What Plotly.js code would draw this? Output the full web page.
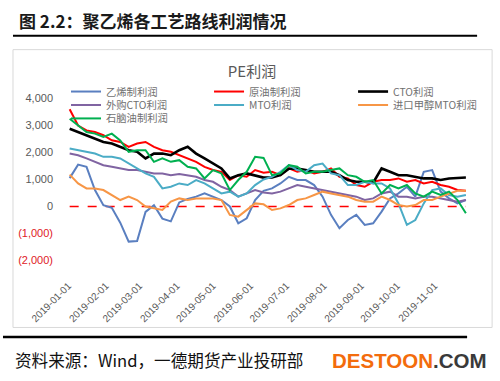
<!DOCTYPE html>
<html>
<head>
<meta charset="utf-8">
<script src="https://cdn.plot.ly/plotly-3.0.1.min.js"></script>
<style>
  html, body { margin: 0; padding: 0; background: #ffffff; }
  #chart { width: 500px; height: 381px; }
</style>
</head>
<body>
<div id="chart"></div>
<script>
// ---------------- data ----------------
const dates = [
  '2019-01-02','2019-01-09','2019-01-16','2019-01-23','2019-01-30',
  '2019-02-06','2019-02-13','2019-02-20','2019-02-27',
  '2019-03-06','2019-03-13','2019-03-20','2019-03-27',
  '2019-04-03','2019-04-10','2019-04-17','2019-04-24',
  '2019-05-01','2019-05-08','2019-05-15','2019-05-22','2019-05-29',
  '2019-06-05','2019-06-12','2019-06-19','2019-06-26',
  '2019-07-03','2019-07-10','2019-07-17','2019-07-24','2019-07-31',
  '2019-08-07','2019-08-14','2019-08-21','2019-08-28',
  '2019-09-04','2019-09-11','2019-09-18','2019-09-25',
  '2019-10-02','2019-10-09','2019-10-16','2019-10-23','2019-10-30',
  '2019-11-06','2019-11-13','2019-11-20','2019-11-27'
];

const ethyleneProfit = [1050,1550,1470,610,50,-50,-600,-1300,-1280,-200,50,-450,-550,150,280,365,485,365,240,0,-620,-435,240,580,
  670,855,1100,980,980,795,365,-310,-805,-500,-310,-680,-620,-190,300,485,730,365,1285,1350,550,300,115,240];
const crudeProfit = [3600,3000,2820,2760,2640,2450,2390,2210,2330,2390,2210,2085,2025,1900,1780,1655,1470,1350,1285,980,1160,1100,1350,1250,
  1285,1160,1410,1285,1350,1225,1285,1410,1100,1040,795,730,915,980,980,1040,915,980,855,915,795,730,610,585];
const ctoProfit = [2880,2760,2640,2515,2390,2330,2210,2085,2025,1780,1960,1960,1900,2085,2210,1960,1780,1590,1410,1040,1160,1225,1160,1070,
  1075,1160,1400,1410,1350,1285,1285,1285,1160,980,915,915,880,1410,1285,1160,1160,1100,1040,1040,980,1040,1070,1075];
const outsourcedCtoProfit = [1960,1900,1780,1650,1530,1470,1410,1350,1350,1285,1225,1225,1160,1200,1160,1100,980,915,730,610,365,490,610,520,
  485,550,670,795,730,670,610,550,485,425,365,240,300,485,550,365,365,300,365,365,300,240,180,240];
const mtoProfit = [2150,2085,2025,1960,1840,1840,1780,1590,1410,1225,1100,670,730,855,795,980,855,670,485,550,365,485,795,1000,
  1100,1285,1530,1350,1285,1530,1590,1225,1160,795,795,915,855,855,670,115,-680,-500,115,610,670,425,365,425];
const importMethanolMtoProfit = [1180,855,670,670,610,425,240,365,240,0,-70,-130,180,300,240,300,300,300,240,-310,-375,-130,115,80,
  -130,-70,55,240,300,425,550,485,425,365,240,180,180,365,240,55,0,55,240,240,365,485,585,585];
const naphthaProfit = [3250,3010,2760,2700,2575,2700,2450,2025,2085,2085,1655,1780,1655,1715,1470,1410,1040,1350,1225,610,980,1285,1840,1800,
  1160,1225,1530,1470,1225,1285,1285,1350,1410,1160,1100,915,980,485,795,670,795,485,365,550,425,550,240,-250];

const seriesNames = ['乙烯制利润','原油制利润','CTO利润','外购CTO利润','MTO利润','进口甲醇MTO利润','石脑油制利润'];
const seriesValues = [ethyleneProfit, crudeProfit, ctoProfit, outsourcedCtoProfit, mtoProfit, importMethanolMtoProfit, naphthaProfit];
const seriesColors = ['#5a7fc0','#ff0000','#000000','#8064a2','#4bacc6','#f79646','#00b050'];
const seriesWidths = [2, 2, 2.6, 2, 2, 2, 2];

const yTickVals = [-2000,-1000,0,1000,2000,3000,4000];
const yTickText = ['(2,000)','(1,000)','0','1,000','2,000','3,000','4,000'];
const xTickVals = ['2019-01-01','2019-02-01','2019-03-01','2019-04-01','2019-05-01','2019-06-01',
  '2019-07-01','2019-08-01','2019-09-01','2019-10-01','2019-11-01'];
const xTickText = ['2019-01-01','2019-02-01','2019-03-01','2019-04-01','2019-05-01','2019-06-01',
  '2019-07-01','2019-08-01','2019-09-01','2019-10-01','2019-11-01'];

const chartTitle = 'PE利润';
const headerText = '图 2.2：聚乙烯各工艺路线利润情况';
const sourceText = '资料来源：Wind，一德期货产业投研部';

// ---------------- layout geometry ----------------
const W = 500, H = 381;
const L = 54, T = 84.5, PW = 441.9, PH = 189.8;
const R = W - L - PW, B = H - T - PH;
const px = x => (x - L) / PW;          // pixel -> paper x
const py = y => 1 - (y - T) / PH;      // pixel -> paper y

// legend grid: 3 columns x 3 rows (pixel anchors of each legend box)
const legendCols = [66, 209, 353];
const legendRows = [76.5, 90, 103.5];

const traces = seriesNames.map((name, i) => ({
  type: 'scatter', mode: 'lines', name: name,
  x: dates, y: seriesValues[i],
  line: { color: seriesColors[i], width: seriesWidths[i] },
  legend: i === 0 ? 'legend' : 'legend' + (i + 1),
  hoverinfo: 'x+y+name'
}));
// zero reference line (red dashed), spanning the data dates
traces.unshift({
  type: 'scatter', mode: 'lines', x: [dates[0], dates[dates.length - 1]], y: [0, 0],
  line: { color: '#ff0000', width: 1.3, dash: 'dash' }, showlegend: false, hoverinfo: 'skip'
});

const legendBase = {
  orientation: 'h', xanchor: 'left', yanchor: 'top',
  bgcolor: 'rgba(0,0,0,0)', borderwidth: 0,
  font: { family: 'Noto Sans CJK SC, sans-serif', size: 10.3, color: '#707070' },
  itemwidth: 30
};

const layout = {
  width: W, height: H,
  margin: { l: L, r: R, t: T, b: B, pad: 0 },
  paper_bgcolor: 'rgba(0,0,0,0)', plot_bgcolor: 'rgba(0,0,0,0)',
  showlegend: true,
  title: {
    text: chartTitle, x: 252 / W, xanchor: 'center', y: 1 - 72 / H, yanchor: 'middle',
    xref: 'container', yref: 'container',
    font: { family: 'Noto Sans CJK SC, sans-serif', size: 15, color: '#595959' }
  },
  xaxis: {
    type: 'date', range: ['2018-12-20', '2019-12-22'],
    tickvals: xTickVals, ticktext: xTickText, tickangle: -45,
    showgrid: false, zeroline: false, showline: false, ticks: '', ticklabelstandoff: 3,
    tickfont: { family: 'Liberation Sans, Arial, sans-serif', size: 10, color: '#595959' },
    fixedrange: true
  },
  yaxis: {
    range: [-2500, 4500],
    tickvals: yTickVals,
    ticktext: yTickText.map((t, i) => yTickVals[i] < 0 ? '<span style="color:#e0201f">' + t + '</span>' : t),
    showgrid: false, zeroline: false, showline: false, ticks: '',
    tickfont: { family: 'Liberation Sans, Arial, sans-serif', size: 11, color: '#595959' },
    fixedrange: true
  },
  shapes: [
    { type: 'line', xref: 'paper', yref: 'paper', x0: px(13), x1: px(477), y0: py(35), y1: py(35),
      line: { color: '#000000', width: 2 } },
    { type: 'rect', xref: 'paper', yref: 'paper', x0: px(13), x1: px(492), y0: py(49), y1: py(328),
      line: { color: '#d9d9d9', width: 1 }, layer: 'below' },
    { type: 'line', xref: 'paper', yref: 'paper', x0: px(3), x1: px(467), y0: py(337.5), y1: py(337.5),
      line: { color: '#000000', width: 2.5 } }
  ],
  annotations: [
    { text: '<b>' + headerText + '</b>', xref: 'paper', yref: 'paper', x: px(17), y: py(20),
      xanchor: 'left', yanchor: 'middle', showarrow: false,
      font: { family: 'Noto Sans CJK SC, sans-serif', size: 17, color: '#1a1a1a' } },
    { text: sourceText, xref: 'paper', yref: 'paper', x: px(13), y: py(361),
      xanchor: 'left', yanchor: 'middle', showarrow: false,
      font: { family: 'Noto Sans CJK SC, sans-serif', size: 16.6, color: '#111111' } },
    { text: '<b><span style="color:#f36c0c">DESTOON</span><span style="color:#3a3a3a">.COM</span></b>',
      xref: 'paper', yref: 'paper', x: px(330), y: py(361),
      xanchor: 'left', yanchor: 'middle', showarrow: false,
      font: { family: 'Liberation Sans, Arial, sans-serif', size: 20.5, color: '#f36c0c' } }
  ]
};
// one legend box per series, placed on the 3x3 grid
seriesNames.forEach((name, i) => {
  const key = i === 0 ? 'legend' : 'legend' + (i + 1);
  layout[key] = Object.assign({}, legendBase, {
    x: px(legendCols[i % 3]), y: py(legendRows[Math.floor(i / 3)])
  });
});

Plotly.newPlot('chart', traces, layout, { staticPlot: false, displayModeBar: false, responsive: false });
</script>
</body>
</html>
